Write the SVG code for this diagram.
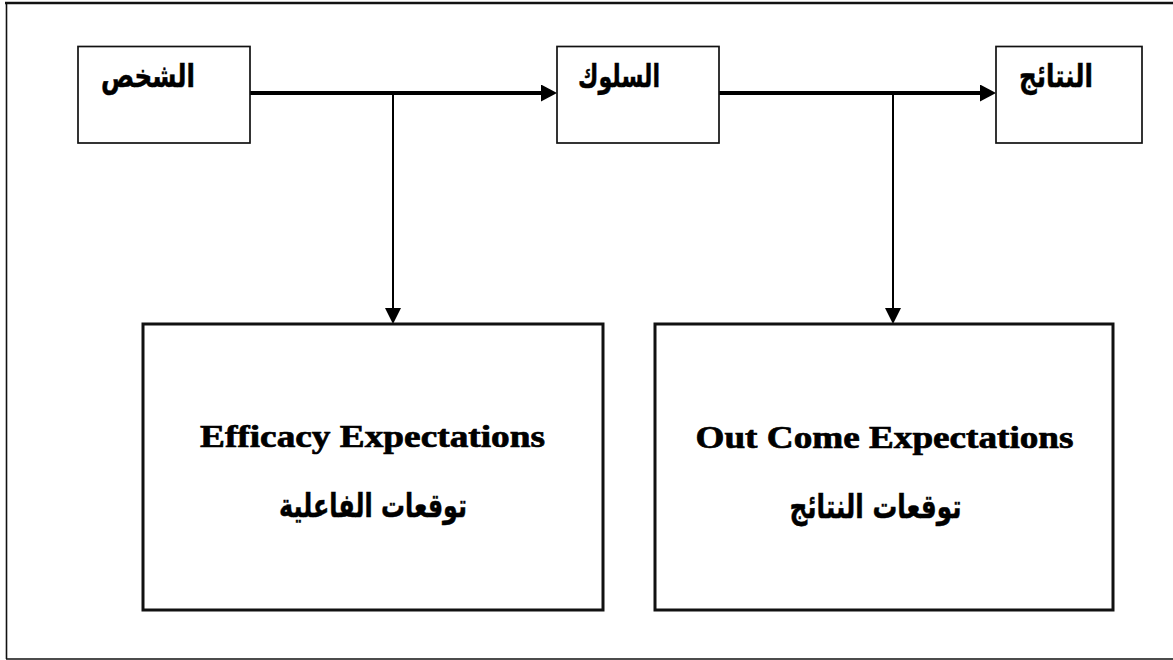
<svg xmlns="http://www.w3.org/2000/svg" width="1173" height="660" viewBox="0 0 1173 660">
  <defs>
    <style>
      .frame { fill: none; stroke: #111; }
      .small { fill: #fff; stroke: #111; stroke-width: 1.7; }
      .big { fill: #fff; stroke: #111; stroke-width: 3; }
      .main { stroke: #000; stroke-width: 4; fill: none; }
      .drop { stroke: #000; stroke-width: 2; fill: none; }
      .ar { font-family: "DejaVu Sans", "Noto Sans", sans-serif; font-weight: bold; fill: #000; stroke: #000; stroke-width: 0.5; }
      .en { font-family: "Liberation Serif", "Times New Roman", serif; font-weight: bold; font-size: 31px; fill: #000; stroke: #000; stroke-width: 0.7; }
    </style>
    <marker id="headMain" markerUnits="userSpaceOnUse" markerWidth="16" markerHeight="17" refX="9" refY="8.5" orient="auto">
      <path d="M0,0 L16,8.5 L0,17 z" fill="#000"/>
    </marker>
    <marker id="headDrop" markerUnits="userSpaceOnUse" markerWidth="16" markerHeight="16" refX="8" refY="8" orient="auto">
      <path d="M0,0 L16,8 L0,16 z" fill="#000"/>
    </marker>
  </defs>

  <rect width="1173" height="660" fill="#fff"/>

  <!-- outer frame (right side runs off the page) -->
  <line class="frame" x1="5" y1="3" x2="1173" y2="3" stroke-width="2.5"/>
  <line class="frame" x1="6.5" y1="3" x2="6.5" y2="659" stroke-width="1.6"/>
  <line class="frame" x1="6" y1="659" x2="1173" y2="659" stroke-width="1.5" stroke="#444"/>

  <!-- connectors -->
  <g id="connectors">
    <line class="main" x1="250" y1="93" x2="550" y2="93" marker-end="url(#headMain)"/>
    <line class="drop" x1="393" y1="93" x2="393" y2="316" marker-end="url(#headDrop)"/>
    <line class="main" x1="719" y1="93" x2="989" y2="93" marker-end="url(#headMain)"/>
    <line class="drop" x1="893" y1="93" x2="893" y2="316" marker-end="url(#headDrop)"/>
  </g>

  <g id="node-person">
    <rect class="small" x="78" y="46.5" width="172" height="96.5"/>
    <text class="ar" x="148" y="87" font-size="32" text-anchor="middle" textLength="94" lengthAdjust="spacingAndGlyphs">الشخص</text>
  </g>

  <g id="node-behavior">
    <rect class="small" x="557" y="46.5" width="162" height="96.5"/>
    <text class="ar" x="619" y="87" font-size="32" text-anchor="middle" textLength="82" lengthAdjust="spacingAndGlyphs">السلوك</text>
  </g>

  <g id="node-outcomes">
    <rect class="small" x="996" y="46.5" width="146" height="96.5"/>
    <text class="ar" x="1056" y="87" font-size="32" text-anchor="middle" textLength="74" lengthAdjust="spacingAndGlyphs">النتائج</text>
  </g>

  <g id="node-efficacy">
    <rect class="big" x="143" y="324" width="460" height="286"/>
    <text class="en" x="372.5" y="447" text-anchor="middle" textLength="345" lengthAdjust="spacingAndGlyphs">Efficacy Expectations</text>
    <text class="ar" x="373" y="517" font-size="33" text-anchor="middle" textLength="188" lengthAdjust="spacingAndGlyphs">توقعات الفاعلية</text>
  </g>

  <g id="node-outcome-exp">
    <rect class="big" x="655" y="324" width="458" height="286"/>
    <text class="en" x="884.5" y="447.5" text-anchor="middle" textLength="378" lengthAdjust="spacingAndGlyphs">Out Come Expectations</text>
    <text class="ar" x="875.5" y="518" font-size="33" text-anchor="middle" textLength="172" lengthAdjust="spacingAndGlyphs">توقعات النتائج</text>
  </g>
</svg>
